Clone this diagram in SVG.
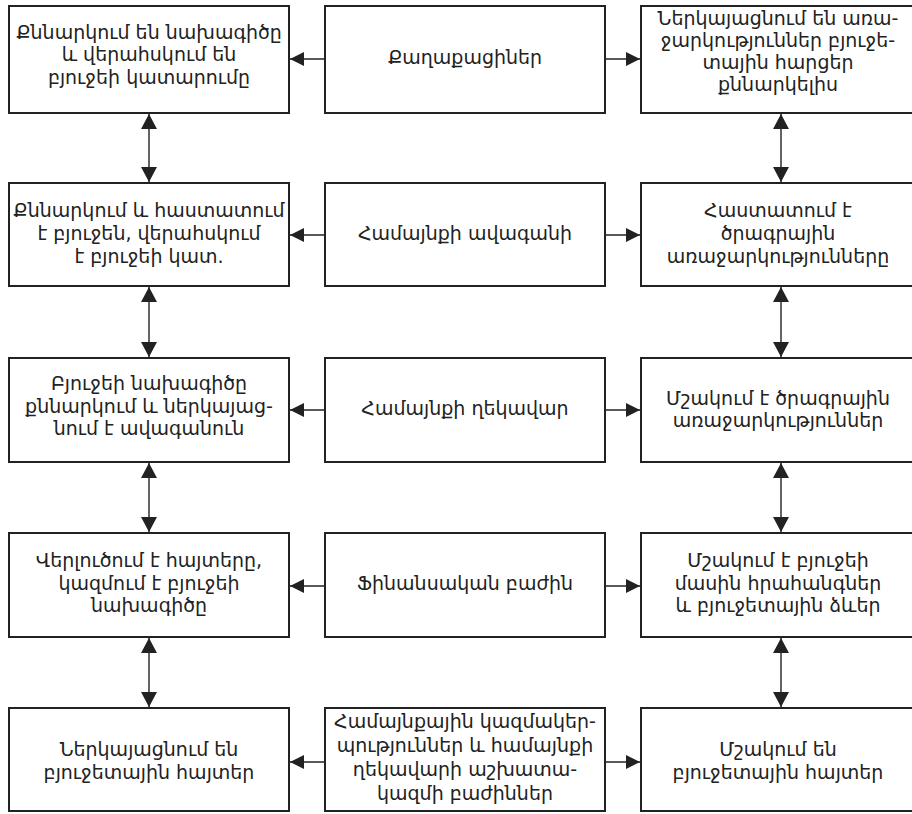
<svg xmlns="http://www.w3.org/2000/svg" width="912" height="814" viewBox="0 0 912 814">
<style>
.box{fill:#fff;stroke:#222;stroke-width:2}
.t{font-family:"DejaVu Sans",sans-serif;font-size:19px;fill:#222;text-anchor:middle}
.c{stroke:#222;stroke-width:1.4;fill:none}
</style>
<defs>
<marker id="ah" viewBox="0 0 14 14" refX="14" refY="7" markerWidth="14" markerHeight="14" markerUnits="userSpaceOnUse" orient="auto-start-reverse">
<path d="M0,0 L14,7 L0,14 Z" fill="#222"/>
</marker>
<marker id="av" viewBox="0 0 15 16" refX="15" refY="8" markerWidth="15" markerHeight="16" markerUnits="userSpaceOnUse" orient="auto-start-reverse">
<path d="M0,0 L15,8 L0,16 Z" fill="#222"/>
</marker>
</defs>
<rect width="912" height="814" fill="#fff"/>
<g id="connectors">
<line class="c" x1="325" y1="59" x2="290" y2="59" marker-end="url(#ah)"/>
<line class="c" x1="605" y1="59" x2="640" y2="59" marker-end="url(#ah)"/>
<line class="c" x1="325" y1="235" x2="290" y2="235" marker-end="url(#ah)"/>
<line class="c" x1="605" y1="235" x2="640" y2="235" marker-end="url(#ah)"/>
<line class="c" x1="325" y1="410" x2="290" y2="410" marker-end="url(#ah)"/>
<line class="c" x1="605" y1="410" x2="640" y2="410" marker-end="url(#ah)"/>
<line class="c" x1="325" y1="586" x2="290" y2="586" marker-end="url(#ah)"/>
<line class="c" x1="605" y1="586" x2="640" y2="586" marker-end="url(#ah)"/>
<line class="c" x1="325" y1="762" x2="290" y2="762" marker-end="url(#ah)"/>
<line class="c" x1="605" y1="762" x2="640" y2="762" marker-end="url(#ah)"/>
<line class="c" x1="149" y1="114" x2="149" y2="182" marker-start="url(#av)" marker-end="url(#av)"/>
<line class="c" x1="149" y1="287" x2="149" y2="357" marker-start="url(#av)" marker-end="url(#av)"/>
<line class="c" x1="149" y1="463" x2="149" y2="532" marker-start="url(#av)" marker-end="url(#av)"/>
<line class="c" x1="149" y1="638" x2="149" y2="707" marker-start="url(#av)" marker-end="url(#av)"/>
<line class="c" x1="781" y1="114" x2="781" y2="182" marker-start="url(#av)" marker-end="url(#av)"/>
<line class="c" x1="781" y1="287" x2="781" y2="357" marker-start="url(#av)" marker-end="url(#av)"/>
<line class="c" x1="781" y1="463" x2="781" y2="532" marker-start="url(#av)" marker-end="url(#av)"/>
<line class="c" x1="781" y1="638" x2="781" y2="707" marker-start="url(#av)" marker-end="url(#av)"/>
</g>
<g id="r1-left"><rect class="box" x="9" y="6" width="280" height="107"/>
<text class="t"><tspan x="149" y="39">Քննարկում են նախագիծը</tspan><tspan x="149" y="61">և վերահսկում են</tspan><tspan x="149" y="84">բյուջեի կատարումը</tspan></text></g>
<g id="r1-mid"><rect class="box" x="325" y="6" width="280" height="107"/>
<text class="t" x="465" y="64">Քաղաքացիներ</text></g>
<g id="r1-right"><rect class="box" x="641" y="6" width="280" height="107"/>
<text class="t"><tspan x="778" y="25">Ներկայացնում են առա-</tspan><tspan x="778" y="47">ջարկություններ բյուջե-</tspan><tspan x="778" y="69">տային հարցեր</tspan><tspan x="778" y="91">քննարկելիս</tspan></text></g>
<g id="r2-left"><rect class="box" x="9" y="183" width="280" height="103"/>
<text class="t"><tspan x="149" y="217">Քննարկում և հաստատում</tspan><tspan x="149" y="240">է բյուջեն, վերահսկում</tspan><tspan x="149" y="263">է բյուջեի կատ.</tspan></text></g>
<g id="r2-mid"><rect class="box" x="325" y="183" width="280" height="103"/>
<text class="t" x="465" y="240">Համայնքի ավագանի</text></g>
<g id="r2-right"><rect class="box" x="641" y="183" width="280" height="103"/>
<text class="t"><tspan x="778" y="217">Հաստատում է</tspan><tspan x="778" y="240">ծրագրային</tspan><tspan x="778" y="263">առաջարկությունները</tspan></text></g>
<g id="r3-left"><rect class="box" x="9" y="358" width="280" height="104"/>
<text class="t"><tspan x="149" y="390">Բյուջեի նախագիծը</tspan><tspan x="149" y="413">քննարկում և ներկայաց-</tspan><tspan x="149" y="435">նում է ավագանուն</tspan></text></g>
<g id="r3-mid"><rect class="box" x="325" y="358" width="280" height="104"/>
<text class="t" x="465" y="415">Համայնքի ղեկավար</text></g>
<g id="r3-right"><rect class="box" x="641" y="358" width="280" height="104"/>
<text class="t"><tspan x="778" y="405">Մշակում է ծրագրային</tspan><tspan x="778" y="427">առաջարկություններ</tspan></text></g>
<g id="r4-left"><rect class="box" x="9" y="533" width="280" height="104"/>
<text class="t"><tspan x="149" y="567">Վերլուծում է հայտերը,</tspan><tspan x="149" y="590">կազմում է բյուջեի</tspan><tspan x="149" y="612">նախագիծը</tspan></text></g>
<g id="r4-mid"><rect class="box" x="325" y="533" width="280" height="104"/>
<text class="t" x="465" y="590">Ֆինանսական բաժին</text></g>
<g id="r4-right"><rect class="box" x="641" y="533" width="280" height="104"/>
<text class="t"><tspan x="778" y="567">Մշակում է բյուջեի</tspan><tspan x="778" y="590">մասին հրահանգներ</tspan><tspan x="778" y="612">և բյուջետային ձևեր</tspan></text></g>
<g id="r5-left"><rect class="box" x="9" y="708" width="280" height="103"/>
<text class="t"><tspan x="149" y="756">Ներկայացնում են</tspan><tspan x="149" y="779">բյուջետային հայտեր</tspan></text></g>
<g id="r5-mid"><rect class="box" x="325" y="708" width="280" height="103"/>
<text class="t"><tspan x="465" y="728">Համայնքային կազմակեր-</tspan><tspan x="465" y="752">պություններ և համայնքի</tspan><tspan x="465" y="776">ղեկավարի աշխատա-</tspan><tspan x="465" y="800">կազմի բաժիններ</tspan></text></g>
<g id="r5-right"><rect class="box" x="641" y="708" width="280" height="103"/>
<text class="t"><tspan x="778" y="756">Մշակում են</tspan><tspan x="778" y="779">բյուջետային հայտեր</tspan></text></g>
</svg>
